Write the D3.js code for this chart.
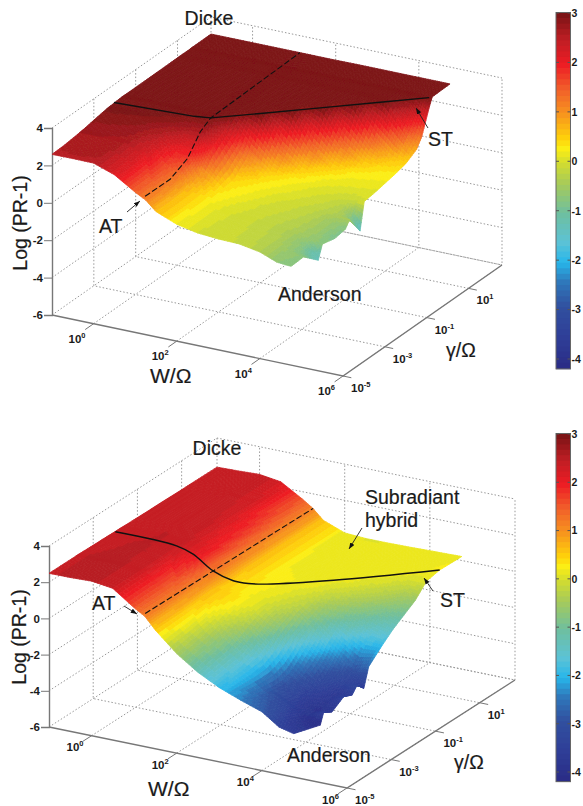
<!DOCTYPE html>
<html>
<head>
<meta charset="utf-8">
<script src="https://cdnjs.cloudflare.com/ajax/libs/d3/7.8.5/d3.min.js"></script>
<style>
html, body { margin: 0; background: #fff; }
svg { display: block; }
text { font-family: "Liberation Sans", Arial, sans-serif; fill: #1a1a1a; }
.tick-label { font-size: 11.5px; font-weight: bold; }
.bar-label { font-size: 10.5px; font-weight: bold; }
.note { font-size: 19.5px; stroke: #1a1a1a; stroke-width: 0.2px; }
.note-big { font-size: 21px; }
</style>
</head>
<body>
<svg id="chart" width="583" height="806"></svg>
<script>
// log10(W/omega) and log10(gamma/omega) sample positions of the surfaces
var wGrid = [-1, -0.5, 0, 0.5, 1, 1.25, 1.5, 2, 2.5, 3, 3.5, 4, 4.4, 4.75];
var gammaTop = [-5, -4.4, -3.7, -3.5, -2.9, -2.4, -2.2, -1.7, -1.5, -1, -0.5, 0, 0.5, 1, 1.25, 1.6, 1.75, 2.6];
var gammaBottom = [-5, -3.8, -3.64, -3.27, -2.74, -2.36, -2.13, -1.83, -1.61, -1, -0.5, 0, 0.5, 1, 1.6, 2.6];

// Log(PR-1), one row per gamma
var zTop = [
	[2.59, 2.60, 2.59, 2.20, 1.50, 1.20, 0.70, 0.25, 0.02, -0.07, -0.10, -0.30, -0.65, -0.72],
	[2.62, 2.63, 2.62, 2.22, 1.52, 1.22, 0.68, 0.26, 0.03, -0.06, -0.12, -0.30, -0.60, -0.68],
	[2.72, 2.72, 2.68, 2.30, 1.60, 1.30, 0.72, 0.28, 0.05, -0.05, -0.15, -0.35, -0.70, -1.41],
	[2.75, 2.74, 2.70, 2.33, 1.63, 1.33, 0.74, 0.29, 0.07, -0.04, -0.15, -0.33, -0.55, -0.70],
	[2.88, 2.85, 2.80, 2.50, 1.90, 1.90, 1.00, 0.38, 0.18, 0.00, -0.10, -0.25, -0.50, -0.86],
	[2.98, 2.96, 2.92, 2.75, 2.45, 2.50, 1.90, 0.47, 0.28, 0.08, -0.05, -0.20, -0.50, -0.76],
	[3.00, 3.00, 2.97, 2.88, 2.65, 2.70, 2.10, 0.55, 0.32, 0.12, 0.00, -0.15, -0.35, -0.41],
	[3.05, 3.05, 3.05, 3.05, 3.03, 3.00, 2.50, 1.10, 0.45, 0.25, 0.08, -0.05, -0.25, -1.41],
	[3.05, 3.05, 3.05, 3.05, 3.05, 3.02, 3.00, 1.50, 0.62, 0.30, 0.12, 0.00, -0.10, 0.02],
	[3.05, 3.05, 3.05, 3.05, 3.05, 3.05, 3.05, 3.05, 1.50, 0.62, 0.25, 0.15, 0.12, 0.10],
	[3.05, 3.05, 3.05, 3.05, 3.05, 3.05, 3.05, 3.05, 3.05, 1.50, 0.62, 0.30, 0.25, 0.22],
	[3.06, 3.06, 3.06, 3.06, 3.06, 3.06, 3.06, 3.06, 3.07, 3.05, 1.50, 0.62, 0.38, 0.34],
	[3.06, 3.06, 3.06, 3.06, 3.06, 3.06, 3.06, 3.07, 3.07, 3.07, 3.05, 1.50, 0.75, 0.50],
	[3.07, 3.07, 3.07, 3.07, 3.07, 3.07, 3.07, 3.07, 3.08, 3.08, 3.08, 3.05, 2.00, 0.85],
	[3.07, 3.07, 3.07, 3.07, 3.07, 3.07, 3.07, 3.08, 3.08, 3.08, 3.08, 3.07, 2.60, 1.34],
	[3.07, 3.07, 3.07, 3.07, 3.08, 3.08, 3.08, 3.08, 3.08, 3.09, 3.09, 3.09, 3.05, 2.60],
	[3.08, 3.08, 3.08, 3.08, 3.08, 3.08, 3.08, 3.08, 3.09, 3.09, 3.09, 3.09, 3.09, 3.07],
	[3.09, 3.09, 3.09, 3.09, 3.09, 3.09, 3.09, 3.09, 3.10, 3.10, 3.10, 3.10, 3.10, 3.10]
];
var zBottom = [
	[2.49, 2.50, 2.54, 2.38, 1.55, 1.20, 0.55, -0.50, -1.30, -1.90, -2.35, -2.75, -3.40, -3.60],
	[2.49, 2.50, 2.53, 2.38, 1.60, 1.22, 0.58, -0.15, -0.90, -1.75, -2.70, -3.30, -3.90, -4.07],
	[2.49, 2.50, 2.53, 2.38, 1.60, 1.23, 0.59, -0.10, -0.85, -1.70, -2.75, -3.40, -3.80, -3.46],
	[2.48, 2.50, 2.52, 2.38, 1.62, 1.24, 0.60, 0.05, -0.60, -1.60, -2.80, -3.50, -3.85, -3.76],
	[2.47, 2.49, 2.52, 2.40, 1.70, 1.26, 0.62, 0.30, -0.20, -1.15, -2.60, -3.40, -3.70, -3.33],
	[2.46, 2.49, 2.50, 2.40, 1.85, 1.28, 0.62, 0.35, 0.00, -0.80, -2.20, -3.20, -3.60, -3.54],
	[2.45, 2.48, 2.50, 2.42, 1.95, 1.30, 0.60, 0.35, 0.05, -0.60, -1.90, -3.00, -3.40, -3.17],
	[2.45, 2.47, 2.50, 2.42, 2.05, 1.32, 0.55, 0.28, 0.05, -0.40, -1.55, -2.60, -3.20, -3.59],
	[2.44, 2.47, 2.50, 2.42, 2.05, 1.32, 0.52, 0.30, 0.10, -0.25, -1.20, -2.20, -2.90, -2.56],
	[2.43, 2.46, 2.48, 2.40, 1.95, 1.30, 0.60, 0.30, 0.22, -0.05, -0.65, -1.30, -1.80, -1.86],
	[2.42, 2.45, 2.48, 2.38, 1.90, 1.28, 0.62, 0.27, 0.24, 0.15, -0.20, -0.75, -1.20, -1.35],
	[2.42, 2.45, 2.48, 2.36, 1.85, 1.26, 0.63, 0.25, 0.22, 0.22, 0.10, -0.30, -0.70, -0.95],
	[2.41, 2.44, 2.48, 2.34, 1.80, 1.24, 0.64, 0.23, 0.18, 0.20, 0.23, 0.05, -0.30, -0.55],
	[2.40, 2.43, 2.47, 2.33, 1.70, 1.22, 0.65, 0.22, 0.15, 0.17, 0.20, 0.22, 0.08, 0.11],
	[2.40, 2.43, 2.47, 2.32, 1.65, 1.20, 0.65, 0.20, 0.14, 0.15, 0.17, 0.20, 0.23, 0.26],
	[2.39, 2.42, 2.47, 2.30, 1.60, 1.20, 0.65, 0.20, 0.13, 0.13, 0.15, 0.18, 0.20, 0.22]
];

// solid ST and dashed AT traces on each surface
var stTopW = [-1, 0.85, 1.2, 2, 3, 4, 4.71];
var stTopG = [-2.04, -1.88, -1.78, -1, 0, 1, 1.68];
var stTopZ = [3.05, 3.05, 3.05, 3.05, 3.05, 3.05, 3.07];
var atTopW = [1.24, 1.2, 1.2, 1.2, 1.2, 1.14];
var atTopG = [-5, -3.71, -2.9, -2.28, -1.8, 2.6];
var atTopZ = [1.39, 1.29, 1.75, 2.7, 3.05, 3.09];
var stBottomW = [-1, 0.49, 0.89, 1.26, 1.49, 1.76, 2.08, 3.14, 4.75];
var stBottomG = [-2, -2.1, -2.12, -1.93, -1.46, -1.3, -1.08, -0.1, 1.6];
var stBottomZ = [2.43, 2.45, 2.2, 1.3, 0.5, 0.35, 0.3, 0.25, 0.26];
var atBottomW = [1.26, 1.26];
var atBottomG = [-5, 2.6];
var atBottomZ = [1.36, 1.2];

// axis ticks
var zTicks = [-6, -4, -2, 0, 2, 4];
var wTicks = [0, 2, 4, 6];
var gammaTicks = [-5, -3, -1, 1];
var barTicks = [3, 2, 1, 0, -1, -2, -3, -4];

// colormap of the colour bars
var colorValues = [-4.2, -3.5, -2.9, -2.4, -2, -1.6, -1, -0.4, 0, 0.3, 0.5, 1, 1.5, 2, 2.5, 3];
var colorStops = ['#2a2a84', '#2f3f98', '#31509f', '#2f78bb', '#27b7ea', '#5cc2d6', '#6fbf9e', '#a8cb58', '#d2dc30', '#fbee15', '#fed20a', '#f7941e', '#f15f2a', '#ed1c24', '#bf1e24', '#7d1416'];

var colorScale = d3.scaleLinear().domain(colorValues).range(colorStops).clamp(true);
var levelStep = 7.2 / 64;
function bandColor(z) {
	return colorScale(Math.round((z + 4.2) / levelStep) * levelStep - 4.2);
}

// plain hyphen for the negative ticks
function plainTick(d) {
	return String(d);
}

var chartSVG = d3.select('#chart');

var defs = chartSVG.append('defs');
// arrow head used by the annotations
defs.append('marker')
	.attr('id', 'head')
	.attr('viewBox', '0 0 8 6')
	.attr('refX', 8).attr('refY', 3)
	.attr('markerWidth', 7).attr('markerHeight', 5.5)
	.attr('orient', 'auto')
	.append('path')
	.attr('d', 'M0,0L8,3L0,6Z')
	.attr('fill', '#111');
// melts the small quads together
defs.append('filter')
	.attr('id', 'soft')
	.append('feGaussianBlur')
	.attr('stdDeviation', 0.55);

function drawPanel(p) {
	var g = chartSVG.append('g');

	// the box is a plain skew projection: W runs along the front, gamma to the back
	var wX = d3.scaleLinear().domain([-1, 6]).range([0, p.frontX]);
	var wY = d3.scaleLinear().domain([-1, 6]).range([0, p.frontY]);
	var gX = d3.scaleLinear().domain([-5, 2.6]).range([0, p.depthX]);
	var gY = d3.scaleLinear().domain([-5, 2.6]).range([0, -p.depthY]);
	var zY = d3.scaleLinear().domain([-6, 4]).range([p.cornerY, p.topY]);

	function project(w, gam, z) {
		return [p.cornerX + wX(w) + gX(gam), wY(w) + gY(gam) + zY(z)];
	}

	function seg(pts) {
		g.append('path')
			.attr('d', d3.line()(pts))
			.attr('fill', 'none')
			.attr('stroke', '#999')
			.attr('stroke-width', 1)
			.attr('stroke-dasharray', '1.5,2');
	}

	// dotted grid: floor, left wall, back wall
	wTicks.forEach(function (w) {
		seg([project(w, -5, -6), project(w, 2.6, -6), project(w, 2.6, 4)]);
	});
	gammaTicks.slice(1).forEach(function (gam) {
		seg([project(-1, gam, 4), project(-1, gam, -6), project(6, gam, -6)]);
	});
	seg([project(-1, 2.6, -6), project(6, 2.6, -6)]);
	seg([project(-1, 2.6, 4), project(-1, 2.6, -6)]);
	zTicks.forEach(function (z) {
		seg([project(-1, -5, z), project(-1, 2.6, z), project(6, 2.6, z)]);
	});

	// solid axes
	g.append('path')
		.attr('d', d3.line()([project(-1, -5, -6), project(6, -5, -6), project(6, 2.6, -6)]))
		.attr('fill', 'none')
		.attr('stroke', '#777')
		.attr('stroke-width', 1.4);

	var zAxis = d3.axisLeft(zY).tickValues(zTicks).tickSize(8).tickPadding(1).tickFormat(plainTick);
	var zG = g.append('g')
		.attr('transform', 'translate(' + p.cornerX + ',0)')
		.call(zAxis);
	zG.select('.domain').attr('stroke', '#777').attr('stroke-width', 1.4);
	zG.selectAll('.tick line').attr('stroke', '#777');
	zG.selectAll('.tick text').attr('class', 'tick-label');

	function powerLabel(x, y, exp) {
		var t = g.append('text').attr('class', 'tick-label').attr('x', x).attr('y', y);
		t.append('tspan').text('10');
		t.append('tspan').attr('dy', -5).style('font-size', '7.5px').text(exp);
	}

	wTicks.forEach(function (w) {
		var a = project(w, -5, -6);
		var c = project(w, -5.4, -6);
		g.append('line').attr('x1', a[0]).attr('y1', a[1]).attr('x2', c[0]).attr('y2', c[1])
			.attr('stroke', '#777');
		powerLabel(a[0] - 25, a[1] + p.wLabelDrop, w);
	});
	gammaTicks.forEach(function (gam) {
		var a = project(6, gam, -6);
		var b = project(6.2, gam, -6);
		g.append('line').attr('x1', a[0]).attr('y1', a[1]).attr('x2', b[0]).attr('y2', b[1])
			.attr('stroke', '#777');
		powerLabel(a[0] + 8, a[1] + 16, gam);
	});

	// surface, painted from the back rows to the front
	var sub = 7;
	var surface = g.append('g').attr('filter', 'url(#soft)');
	var gamma = p.gamma;
	var z = p.z;
	for (var i = gamma.length - 2; i >= 0; i--) {
		for (var j = 0; j < wGrid.length - 1; j++) {
			for (var a = sub - 1; a >= 0; a--) {
				for (var b = 0; b < sub; b++) {
					var quad = [[b, a], [b + 1, a], [b + 1, a + 1], [b, a + 1]].map(function (c) {
						var fw = c[0] / sub;
						var fg = c[1] / sub;
						var v = (1 - fg) * ((1 - fw) * z[i][j] + fw * z[i][j + 1]) +
							fg * ((1 - fw) * z[i + 1][j] + fw * z[i + 1][j + 1]);
						return {
							v: v,
							pt: project(wGrid[j] + fw * (wGrid[j + 1] - wGrid[j]), gamma[i] + fg * (gamma[i + 1] - gamma[i]), v)
						};
					});
					var col = bandColor(d3.mean(quad, function (q) { return q.v; }));
					surface.append('path')
						.attr('d', d3.line()(quad.map(function (q) { return q.pt; })) + 'Z')
						.attr('fill', col)
						.attr('stroke', col)
						.attr('stroke-width', 0.8)
						.attr('stroke-linejoin', 'round');
				}
			}
		}
	}

	// ST and AT traces
	function trace(w, gam, zz, dash, curve) {
		var pts = w.map(function (d, k) { return project(d, gam[k], zz[k]); });
		g.append('path')
			.attr('d', d3.line().curve(curve)(pts))
			.attr('fill', 'none')
			.attr('stroke', '#111')
			.attr('stroke-width', dash ? 1.1 : 1.4)
			.attr('stroke-dasharray', dash ? '6,2.5' : null);
	}
	trace(p.stW, p.stG, p.stZ, false, p.stCurve);
	trace(p.atW, p.atG, p.atZ, true, d3.curveLinear);

	// annotations
	p.notes.forEach(function (n) {
		g.append('text').attr('class', n[4] ? 'note note-big' : 'note')
			.attr('x', n[1]).attr('y', n[2])
			.attr('text-anchor', n[3] || 'start')
			.text(n[0]);
	});
	g.append('text').attr('class', 'note')
		.attr('transform', 'translate(' + p.zLabelX + ',' + p.zLabelY + ') rotate(-90)')
		.attr('text-anchor', 'middle')
		.text('Log (PR-1)');
	p.arrows.forEach(function (s) {
		g.append('line')
			.attr('x1', s[0]).attr('y1', s[1]).attr('x2', s[2]).attr('y2', s[3])
			.attr('stroke', '#222')
			.attr('stroke-width', 0.9)
			.attr('marker-end', 'url(#head)');
	});

	// colour bar
	var barY = d3.scaleLinear().domain([3, -4]).range([p.barTop3, p.barBottom4]);
	var levels = d3.range(0, 64);
	var bar = g.append('g');
	bar.selectAll('rect')
		.data(levels)
		.enter()
		.append('rect')
		.attr('x', p.barX)
		.attr('width', 14.5)
		.attr('y', function (d) { return barY(3.0 - d * levelStep) - 0.5; })
		.attr('height', levelStep * (barY(0) - barY(1)) + 0.8)
		.attr('fill', function (d) { return bandColor(3.0 - d * levelStep); });
	bar.append('rect')
		.attr('x', p.barX).attr('width', 14.5)
		.attr('y', barY(3) - 0.5)
		.attr('height', barY(-4.2) - barY(3) + 0.5)
		.attr('fill', 'none')
		.attr('stroke', '#666');
	var barAxis = d3.axisRight(barY).tickValues(barTicks).tickSize(0).tickPadding(1).tickFormat(plainTick);
	var barG = bar.append('g')
		.attr('transform', 'translate(' + (p.barX + 14.5) + ',0)')
		.call(barAxis);
	barG.select('.domain').remove();
	barG.selectAll('.tick text').attr('class', 'bar-label');
	barTicks.forEach(function (t) {
		bar.append('line').attr('x1', p.barX).attr('x2', p.barX + 3).attr('y1', barY(t)).attr('y2', barY(t)).attr('stroke', '#555');
		bar.append('line').attr('x1', p.barX + 11.5).attr('x2', p.barX + 14.5).attr('y1', barY(t)).attr('y2', barY(t)).attr('stroke', '#555');
	});
}

drawPanel({
	cornerX: 52, cornerY: 315, topY: 128,
	frontX: 291, frontY: 61, depthX: 159, depthY: 111,
	wLabelDrop: 19,
	gamma: gammaTop, z: zTop,
	stW: stTopW, stG: stTopG, stZ: stTopZ, stCurve: d3.curveLinear,
	atW: atTopW, atG: atTopG, atZ: atTopZ,
	notes: [['Dicke', 209, 25, 'middle'], ['AT', 99, 233], ['ST', 428, 146], ['Anderson', 278, 301], ['W/\u03a9', 150, 383, 'start', true], ['\u03b3/\u03a9', 446, 357]],
	zLabelX: 27, zLabelY: 223,
	arrows: [[127, 212, 140, 201], [428, 128, 416, 108]],
	barX: 556, barTop3: 13, barBottom4: 359
});

drawPanel({
	cornerX: 49, cornerY: 727, topY: 546,
	frontX: 298, frontY: 61, depthX: 168, depthY: 108,
	wLabelDrop: 15.5,
	gamma: gammaBottom, z: zBottom,
	stW: stBottomW, stG: stBottomG, stZ: stBottomZ, stCurve: d3.curveCatmullRom,
	atW: atBottomW, atG: atBottomG, atZ: atBottomZ,
	notes: [['Dicke', 217, 455, 'middle'], ['Subradiant', 365, 504], ['hybrid', 365, 527], ['AT', 92, 610], ['ST', 440, 607], ['Anderson', 287, 762], ['W/\u03a9', 148, 796, 'start', true], ['\u03b3/\u03a9', 454, 769]],
	zLabelX: 26, zLabelY: 637,
	arrows: [[124, 606, 137, 614], [433, 591, 424, 578], [362, 528, 349, 549]],
	barX: 556, barTop3: 434, barBottom4: 772
});
</script>
</body>
</html>
